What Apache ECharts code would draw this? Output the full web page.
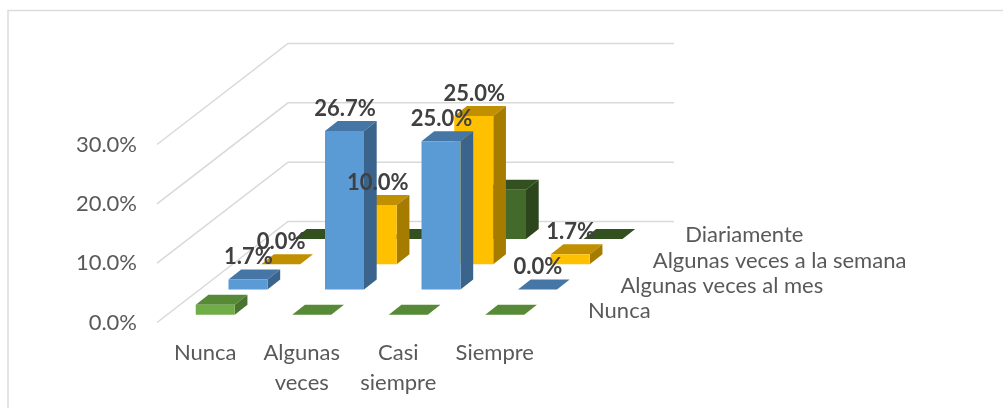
<!DOCTYPE html>
<html>
<head>
<meta charset="utf-8">
<style>
  html, body { margin: 0; padding: 0; background: #fff; }
  #main { width: 1003px; height: 408px; }
</style>
</head>
<body>
<div id="main"></div>
<script src="https://cdn.jsdelivr.net/npm/echarts@6/dist/echarts.min.js"></script>
<script>
  const categories = ['Nunca', 'Algunas\nveces', 'Casi\nsiempre', 'Siempre'];
  const rows = ['Nunca', 'Algunas veces al mes', 'Algunas veces a la semana', 'Diariamente'];
  const yTicks = [0, 10, 20, 30];

  const nunca = [1.7, 0, 0, 0];
  const algunasMes = [1.7, 26.7, 25.0, 0];
  const algunasSemana = [0, 10.0, 25.0, 1.7];
  const diariamente = [0, 0, 8.3, 0];

  const rowValues = [nunca, algunasMes, algunasSemana, diariamente];
  const rowLabelled = [false, true, true, false];
  const rowColors = [
    { front: '#70ad47', top: '#578a37', side: '#4a7430' },
    { front: '#5b9bd5', top: '#4676a6', side: '#3a648c' },
    { front: '#ffc000', top: '#c09000', side: '#a67c00' },
    { front: '#436a2b', top: '#335021', side: '#2c451c' },
  ];

  // fake 3D: every row is pushed back by a fixed pixel shift
  const fontName = 'Lato';
  const rowDx = 32.75;
  const rowDy = -25.25;
  const barW = 39;
  const barDx = 12.7;
  const barDy = -10;
  const gapDx = 10;
  const gapDy = -7.75;
  const wallDx = rowDx * rows.length;
  const wallDy = rowDy * rows.length;

  function pct(v) {
    return v.toFixed(1) + '%';
  }

  function renderBar(row) {
    return function (params, api) {
      const base = api.coord([api.value(0), 0]);
      const top = api.coord([api.value(0), api.value(1)]);
      const c = rowColors[row];
      const x0 = base[0] - barW / 2 + rowDx * row + gapDx;
      const x1 = x0 + barW;
      const y0 = base[1] + rowDy * row + gapDy;
      const y1 = top[1] + rowDy * row + gapDy;
      const children = [
        {
          type: 'polygon',
          shape: { points: [[x0, y1], [x0 + barDx, y1 + barDy], [x1 + barDx, y1 + barDy], [x1, y1]] },
          style: { fill: c.top },
        },
      ];
      if (y0 - y1 > 0.5) {
        children.push({
          type: 'polygon',
          shape: { points: [[x1, y1], [x1 + barDx, y1 + barDy], [x1 + barDx, y0 + barDy], [x1, y0]] },
          style: { fill: c.side },
        });
        children.push({
          type: 'rect',
          shape: { x: x0, y: y1, width: barW, height: y0 - y1 },
          style: { fill: c.front },
        });
      }
      return { type: 'group', children: children };
    };
  }

  function renderValueLabel(row) {
    return function (params, api) {
      const base = api.coord([api.value(0), 0]);
      const top = api.coord([api.value(0), api.value(1)]);
      return {
        type: 'text',
        style: {
          x: base[0] + rowDx * row + gapDx + 0.5,
          y: top[1] + rowDy * row + gapDy - 22.5,
          text: pct(api.value(1)),
          fill: '#404040',
          font: 'bold 22px ' + fontName,
          align: 'center',
          verticalAlign: 'middle',
        },
      };
    };
  }

  function renderWall(params, api) {
    const p = api.coord([0, api.value(0)]);
    const left = params.coordSys.x;
    return {
      type: 'polyline',
      shape: {
        points: [
          [left, p[1]],
          [left + wallDx, p[1] + wallDy],
          [left + params.coordSys.width + wallDx, p[1] + wallDy],
        ],
      },
      style: { fill: null, stroke: '#d9d9d9', lineWidth: 1.5 },
    };
  }

  function renderRowName(params, api) {
    const row = api.value(0);
    const base = api.coord([0, 0]);
    return {
      type: 'text',
      style: {
        x: params.coordSys.x + params.coordSys.width + 45 + 32.4 * row,
        y: base[1] - 11.5 + rowDy * row,
        text: rows[row],
        fill: '#595959',
        font: '22px ' + fontName,
        align: 'left',
        verticalAlign: 'middle',
      },
    };
  }

  const series = [
    {
      type: 'custom',
      name: 'paredes',
      silent: true,
      clip: false,
      data: yTicks.map((v) => [v]),
      encode: { y: 0 },
      renderItem: renderWall,
    },
  ];

  // back row first so the front rows cover it
  for (let row = rows.length - 1; row >= 0; row--) {
    series.push({
      type: 'custom',
      name: rows[row],
      clip: false,
      data: rowValues[row].map((v, i) => [i, v]),
      encode: { x: 0, y: 1 },
      renderItem: renderBar(row),
    });
  }

  rows.forEach((name, row) => {
    if (!rowLabelled[row]) return;
    series.push({
      type: 'custom',
      name: name + ' etiquetas',
      silent: true,
      clip: false,
      z: 5,
      data: rowValues[row].map((v, i) => [i, v]),
      encode: { x: 0, y: 1 },
      renderItem: renderValueLabel(row),
    });
  });

  series.push({
    type: 'custom',
    name: 'filas',
    silent: true,
    clip: false,
    z: 5,
    data: rows.map((_, i) => [i]),
    renderItem: renderRowName,
  });

  const chart = echarts.init(document.getElementById('main'), null, { renderer: 'canvas' });
  chart.setOption({
    animation: false,
    backgroundColor: '#fff',
    textStyle: { fontFamily: fontName },
    grid: { left: 157, top: 144.5, width: 386, height: 178 },
    xAxis: {
      type: 'category',
      data: categories,
      axisLine: { show: false },
      axisTick: { show: false },
      splitLine: { show: false },
      axisLabel: { color: '#595959', fontSize: 22, lineHeight: 30, margin: 15, interval: 0 },
    },
    yAxis: {
      type: 'value',
      min: 0,
      max: 30,
      interval: 10,
      axisLine: { show: false },
      axisTick: { show: false },
      splitLine: { show: false },
      axisLabel: { color: '#595959', fontSize: 22, margin: 20, padding: [3, 0, 0, 0], formatter: pct },
    },
    graphic: [
      {
        type: 'polyline',
        silent: true,
        shape: { points: [[8, 408], [8, 10.5], [1003, 10.5]] },
        style: { fill: null, stroke: '#dcdcdc', lineWidth: 1.5 },
      },
    ],
    series: series,
  });
</script>
</body>
</html>
